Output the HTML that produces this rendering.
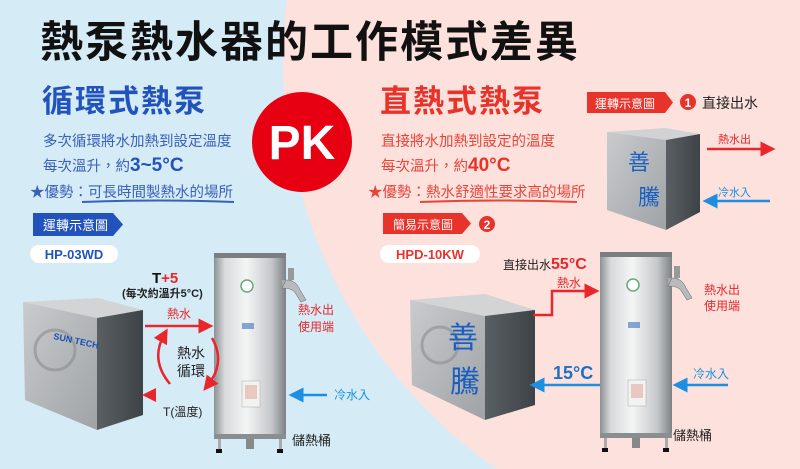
<!DOCTYPE html>
<html><head><meta charset="utf-8"><style>
html,body{margin:0;padding:0;width:800px;height:469px;overflow:hidden;background:#d5ebf6;position:relative}
svg{display:block;position:absolute;left:0;top:0}
text{font-family:"Liberation Sans","Noto Sans CJK TC",sans-serif}
</style></head><body>
<svg width="800" height="469" viewBox="0 0 800 469" xmlns="http://www.w3.org/2000/svg">
<defs>
<linearGradient id="tank" x1="0" x2="1" y1="0" y2="0">
<stop offset="0" stop-color="#8d9194"/><stop offset="0.15" stop-color="#d8dadb"/><stop offset="0.45" stop-color="#f4f5f5"/><stop offset="0.8" stop-color="#c4c7c9"/><stop offset="1" stop-color="#7d8184"/></linearGradient>
<linearGradient id="box" x1="0" x2="1" y1="0" y2="1">
<stop offset="0" stop-color="#c9cbcd"/><stop offset="1" stop-color="#9fa3a6"/></linearGradient>
<linearGradient id="dark" x1="0" x2="1"><stop offset="0" stop-color="#5a5f63"/><stop offset="1" stop-color="#3e4347"/></linearGradient>
<linearGradient id="rb" x1="0" x2="1"><stop offset="0" stop-color="#e8262b"/><stop offset="0.5" stop-color="#e8262b"/><stop offset="1" stop-color="#1e8fe0"/></linearGradient>
<marker id="ar" markerWidth="6" markerHeight="6" refX="3" refY="3" orient="auto" markerUnits="strokeWidth"><path d="M0,0 L6,3 L0,6 Z" fill="#e8262b"/></marker>
<marker id="ab" markerWidth="6" markerHeight="6" refX="3" refY="3" orient="auto" markerUnits="strokeWidth"><path d="M0,0 L6,3 L0,6 Z" fill="#1e8fe0"/></marker>
<g id="tankg">
<rect x="0" y="0" width="72" height="186" rx="6" fill="url(#tank)"/>
<rect x="0" y="0" width="72" height="5" fill="#7a7e81"/>
<rect x="0" y="181" width="72" height="5" fill="#8a8e91"/>
<rect x="4" y="186" width="3" height="12" fill="#aaa"/><rect x="65" y="186" width="3" height="12" fill="#aaa"/><rect x="32" y="186" width="8" height="10" fill="#888"/>
<rect x="2" y="196" width="6" height="4" fill="#111"/><rect x="63" y="196" width="6" height="4" fill="#111"/>
<circle cx="33" cy="33" r="6" fill="#fff" stroke="#6a7"  stroke-width="1.5"/>
<rect x="28" y="128" width="18" height="26" fill="#f2f2f0" stroke="#aaa" stroke-width="0.5"/>
<rect x="31" y="132" width="12" height="14" fill="#e8c8c0"/>
<rect x="28" y="70" width="12" height="6" fill="#3a6fc0" opacity="0.6"/>
</g>
<g id="faucet"><rect x="0" y="12" width="10" height="6" fill="#aaa"/><path d="M4,12 q10,0 14,10 l6,10 l-5,2 l-5,-8 q-3,-6 -14,-6 z" fill="#b8bbbd" stroke="#777" stroke-width="0.6"/><rect x="6" y="0" width="6" height="12" fill="#999"/></g>
</defs>
<rect width="800" height="469" fill="#d5ebf6"/>
<path d="M286.6,0 A498,498 0 0 0 496.9,469 L800,469 L800,0 Z" fill="#fde1dc"/>

<text x="40" y="57" font-size="43" font-weight="bold" fill="#111" letter-spacing="2">熱泵熱水器的工作模式差異</text>
<text x="42" y="112" font-size="31" font-weight="bold" fill="#2253bd" letter-spacing="2">循環式熱泵</text>
<text x="380" y="112" font-size="31" font-weight="bold" fill="#e8332a" letter-spacing="2">直熱式熱泵</text>

<circle cx="302" cy="142" r="50" fill="#e60012"/>
<text x="302" y="159" font-size="48" font-weight="bold" fill="#fff" text-anchor="middle">PK</text>

<g fill="#3a61b8" font-size="14.5">
<text x="43" y="146">多次循環將水加熱到設定溫度</text>
<text x="43" y="171">每次溫升，約<tspan font-size="19" font-weight="bold" fill="#2253bd">3~5°C</tspan></text>
<text x="30" y="197">★優勢：可長時間製熱水的場所</text>
</g>
<path d="M82,202 Q160,199 234,202" stroke="#3a61b8" stroke-width="2" fill="none"/>
<g fill="#e8453a" font-size="14.5">
<text x="381" y="146">直接將水加熱到設定的溫度</text>
<text x="381" y="171">每次溫升，約<tspan font-size="19" font-weight="bold" fill="#e8332a">40°C</tspan></text>
<text x="368" y="197">★優勢：熱水舒適性要求高的場所</text>
</g>
<path d="M420,202 Q500,199 577,202" stroke="#e8453a" stroke-width="2" fill="none"/>

<path d="M33,213 H113 L123,224.5 L113,236 H33 Z" fill="#2253bd"/>
<text x="43" y="230" font-size="13" fill="#fff">運轉示意圖</text>
<rect x="30" y="245" width="88" height="18" rx="9" fill="#fff"/>
<text x="74" y="259" font-size="13" font-weight="bold" fill="#2253bd" text-anchor="middle">HP-03WD</text>

<path d="M587,92 H665 L673,102.5 L665,113 H587 Z" fill="#e8332a"/>
<text x="595" y="108" font-size="12" fill="#fff">運轉示意圖</text>
<circle cx="688" cy="102" r="8" fill="#e8332a"/><text x="688" y="107" font-size="12" font-weight="bold" fill="#fff" text-anchor="middle">1</text>
<text x="702" y="108" font-size="14" fill="#222">直接出水</text>

<path d="M383,213 H462 L471,223.5 L462,234 H383 Z" fill="#e8332a"/>
<text x="393" y="229" font-size="12" fill="#fff">簡易示意圖</text>
<circle cx="487" cy="224" r="8" fill="#e8332a"/><text x="487" y="229" font-size="12" font-weight="bold" fill="#fff" text-anchor="middle">2</text>
<rect x="380" y="245" width="100" height="18" rx="9" fill="#fff"/>
<text x="430" y="259" font-size="13" font-weight="bold" fill="#e8332a" text-anchor="middle">HPD-10KW</text>

<path d="M607,132 L665,128 L700,134 L666,140 Z" fill="#d0d2d3"/>
<path d="M607,132 L666,140 L666,230 L607,210 Z" fill="url(#box)"/>
<path d="M666,140 L700,134 L700,212 L666,230 Z" fill="url(#dark)"/>
<text x="628" y="170" font-size="22" fill="#1a5fc0">善</text>
<text x="638" y="205" font-size="22" fill="#1a5fc0">騰</text>
<text x="718" y="143" font-size="11" fill="#e8262b">熱水出</text>
<line x1="707" y1="149" x2="768" y2="149" stroke="#e8262b" stroke-width="2.5" marker-end="url(#ar)"/>
<text x="718" y="196" font-size="11" fill="#1e8fe0">冷水入</text>
<line x1="770" y1="201" x2="710" y2="201" stroke="#1e8fe0" stroke-width="2.5" marker-end="url(#ab)"/>

<path d="M23,302 L98,298 L143,310 L97,318 Z" fill="#d2d4d5"/>
<path d="M23,302 L97,318 L97,430 L25,400 Z" fill="url(#box)"/>
<path d="M97,318 L143,310 L143,415 L97,430 Z" fill="url(#dark)"/>
<circle cx="55" cy="350" r="20" fill="none" stroke="#8a8e91" stroke-width="3" opacity="0.6"/>
<text x="53" y="339" font-size="9" font-weight="bold" fill="#1a4fb0" transform="rotate(12 53 339)">SUN TECH</text>
<use href="#tankg" x="214" y="253"/>
<use href="#faucet" x="282" y="268"/>
<text x="152" y="283" font-size="15" font-weight="bold" fill="#111">T<tspan fill="#e8262b">+5</tspan></text>
<text x="122" y="297" font-size="11" font-weight="bold" fill="#222">(每次約溫升5°C)</text>
<text x="167" y="318" font-size="12" fill="#e8262b">熱水</text>
<line x1="145" y1="326" x2="206" y2="326" stroke="#e8262b" stroke-width="2.5" marker-end="url(#ar)"/>
<path d="M170,384 Q150,360 164,335" stroke="#e8262b" stroke-width="2.5" fill="none" marker-end="url(#ar)"/>
<path d="M212,338 Q226,362 208,385" stroke="#e8262b" stroke-width="2.5" fill="none" marker-end="url(#ar)"/>
<text x="191" y="358" font-size="14" fill="#222" text-anchor="middle">熱水</text>
<text x="191" y="376" font-size="14" fill="#222" text-anchor="middle">循環</text>
<line x1="213" y1="395" x2="152" y2="395" stroke="url(#rb)" stroke-width="2.5"/>
<path d="M142,395 L156,388 L156,402 Z" fill="#e8262b"/>
<text x="163" y="416" font-size="12" fill="#222">T(溫度)</text>
<text x="298" y="314" font-size="12" fill="#e8262b">熱水出</text>
<text x="298" y="331" font-size="12" fill="#e8262b">使用端</text>
<text x="334" y="399" font-size="12" fill="#1e8fe0">冷水入</text>
<line x1="327" y1="395" x2="296" y2="395" stroke="#1e8fe0" stroke-width="2.5" marker-end="url(#ab)"/>
<text x="292" y="445" font-size="13" fill="#222">儲熱桶</text>

<path d="M410,300 L485,294 L535,310 L485,316 Z" fill="#d2d4d5"/>
<path d="M410,300 L485,316 L485,420 L412,385 Z" fill="url(#box)"/>
<path d="M485,316 L535,310 L535,405 L485,420 Z" fill="url(#dark)"/>
<circle cx="440" cy="345" r="18" fill="none" stroke="#8a8e91" stroke-width="3" opacity="0.6"/>
<text x="448" y="348" font-size="30" fill="#1a5fc0">善</text>
<text x="450" y="392" font-size="30" fill="#1a5fc0">騰</text>
<use href="#tankg" x="600" y="252"/>
<use href="#faucet" x="668" y="266"/>
<text x="503" y="269" font-size="12" fill="#222">直接出水<tspan font-size="16" font-weight="bold" fill="#e8262b">55°C</tspan></text>
<text x="557" y="287" font-size="12" fill="#e8262b">熱水</text>
<path d="M533,315 H552 V291 H592" stroke="#e8262b" stroke-width="2.5" fill="none" marker-end="url(#ar)"/>
<text x="553" y="379" font-size="18" font-weight="bold" fill="#1e6fc8">15°C</text>
<line x1="600" y1="385" x2="537" y2="385" stroke="#1e8fe0" stroke-width="2.5" marker-end="url(#ab)"/>
<text x="704" y="294" font-size="12" fill="#e8262b">熱水出</text>
<text x="704" y="310" font-size="12" fill="#e8262b">使用端</text>
<text x="693" y="378" font-size="12" fill="#1e8fe0">冷水入</text>
<line x1="728" y1="385" x2="680" y2="385" stroke="#1e8fe0" stroke-width="2.5" marker-end="url(#ab)"/>
<text x="673" y="440" font-size="13" fill="#222">儲熱桶</text>
</svg>
</body></html>
